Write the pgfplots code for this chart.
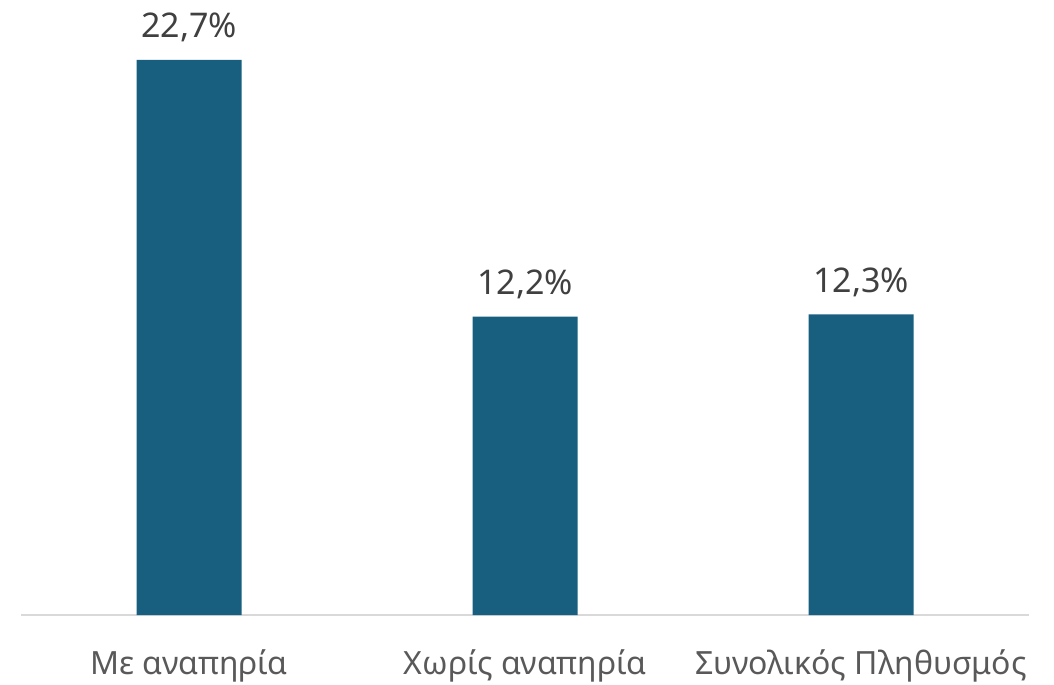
\documentclass[border=0pt]{standalone}
\usepackage{pgfplots}
\pgfplotsset{compat=1.18}
\usepackage{fontspec}
\setmainfont{Noto Sans}
\definecolor{barblue}{HTML}{175E7F}
\definecolor{valgray}{HTML}{404040}
\definecolor{tickgray}{HTML}{595959}
\definecolor{axgray}{HTML}{D9D9D9}
\begin{document}
\begin{tikzpicture}
\begin{axis}[
  scale only axis,
  width=1008pt, height=600pt,
  xmin=-0.5, xmax=2.5,
  ymin=0, ymax=24.54,
  hide y axis,
  axis x line*=bottom,
  x axis line style={draw=axgray, line width=1.5pt},
  xtick={0,1,2},
  xticklabels={Με αναπηρία, Χωρίς αναπηρία, Συνολικός Πληθυσμός},
  major tick length=0pt,
  xticklabel style={anchor=base, yshift=-59pt, text=tickgray, font=\fontsize{32}{38}\selectfont, inner sep=0pt},
  ybar, bar width=105pt,
  nodes near coords,
  point meta=explicit symbolic,
  nodes near coords style={anchor=base, yshift=22pt, text=valgray, font=\fontsize{34}{40}\selectfont, inner sep=0pt},
  clip=false,
]
\addplot[fill=barblue, draw=none] table[meta=label] {
x y label
0 22.7 22,7\%
1 12.2 12,2\%
2 12.3 12,3\%
};
\end{axis}
\path (current axis.south west) ++(-21pt,-69pt) coordinate (bl);
\path (current axis.north east) ++(25pt,15pt) coordinate (tr);
\path (bl) rectangle (tr);
\end{tikzpicture}
\end{document}
